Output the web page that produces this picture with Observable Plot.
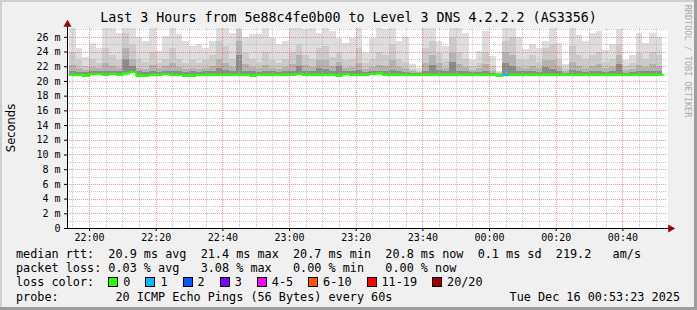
<!DOCTYPE html>
<html><head><meta charset="utf-8">
<script src="https://cdn.jsdelivr.net/npm/d3@7"></script>
<script src="https://cdn.jsdelivr.net/npm/@observablehq/plot@0.6"></script>
<style>
body{margin:0;background:#f0f0f0}
#wrap{position:relative;width:697px;height:310px;background:#f0f0f0;overflow:hidden;font-family:"DejaVu Sans Mono",monospace;color:#000}
.abs{position:absolute}
#title{left:0;top:10px;width:697px;text-align:center;font-size:13.3px;line-height:16px}
#ylab{left:-29px;top:121px;width:80px;height:14px;line-height:14px;text-align:center;font-family:"DejaVu Sans",sans-serif;font-size:11.5px;transform:rotate(-90deg)}
#brand{left:628px;top:56px;width:120px;height:10px;line-height:10px;text-align:center;font-size:8.5px;color:#aaaaaa;transform:rotate(90deg)}
#legend{left:16px;top:247px;font-size:11.8px;line-height:14.2px;white-space:pre}
.box{display:inline-block;width:8px;height:8px;border:1px solid #000;margin-right:5px;vertical-align:-1px}
.lab{margin-right:15px}
#date{right:17px;top:289.6px;font-size:11.8px;line-height:14.2px;white-space:pre}
.shA{background:#cfcfcf}.shB{background:#9e9e9e}
#chart{left:0;top:0}
</style></head>
<body>
<div id="wrap">
  <div class="abs shA" style="left:0;top:0;width:697px;height:2px"></div>
  <div class="abs shA" style="left:0;top:0;width:2px;height:310px"></div>
  <div class="abs shB" style="left:694px;top:0;width:3px;height:310px"></div>
  <div class="abs shB" style="left:0;top:307px;width:697px;height:3px"></div>
  <div id="chart" class="abs"></div>
  <div id="title" class="abs"></div>
  <div id="ylab" class="abs"></div>
  <div id="brand" class="abs"></div>
  <div id="legend" class="abs"></div>
  <div id="date" class="abs"></div>
</div>
<script>
// ---- text ----
const titleText = "Last 3 Hours from 5e88c4fe0b00 to Level 3 DNS 4.2.2.2 (AS3356)";
const yAxisTitle = "Seconds";
const brandText = "RRDTOOL / TOBI OETIKER";
const statsLines = [
  "median rtt:  20.9 ms avg  21.4 ms max  20.7 ms min  20.8 ms now  0.1 ms sd  219.2   am/s",
  "packet loss: 0.03 % avg   3.08 % max   0.00 % min   0.00 % now"
];
const probeLine = "probe:        20 ICMP Echo Pings (56 Bytes) every 60s";
const dateText = "Tue Dec 16 00:53:23 2025";

// ---- loss legend ----
const lossLabels = ["0","1","2","3","4-5","6-10","11-19","20/20"];
const lossColors = ["#26ff00","#00b8ff","#0059ff","#7e00ff","#ff00ff","#ff5500","#ff0000","#a10000"];

// ---- axes ----
const xTickLabels = ["22:00","22:20","22:40","23:00","23:20","23:40","00:00","00:20","00:40"];
const yTickValues = [0,2,4,6,8,10,12,14,16,18,20,22,24,26];
const yTickLabels = ["0","2 m","4 m","6 m","8 m","10 m","12 m","14 m","16 m","18 m","20 m","22 m","24 m","26 m"];
const yMinorValues = [1,3,5,7,9,11,13,15,17,19,21,23,25,27];

// ---- data: 2-minute buckets starting 21:54 UTC, values in ms ----
const median = [20.9,20.9,20.8,21.0,21.0,20.9,21.0,20.9,21.1,21.3, 20.8,20.8,20.9,20.9,21.0,20.9,20.9,20.8,20.8,20.9,
  20.9,20.9,20.9,20.9,20.9,20.9,20.9,20.8,20.9,20.9, 20.9,20.9,20.9,20.9,21.0,20.9,20.9,20.9,20.9,20.9,
  20.8,21.0,20.9,20.9,20.9,21.0,21.1,20.9,20.9,20.9, 20.9,20.9,20.9,20.9,20.9,20.9,20.9,20.9,20.9,20.9,
  20.9,20.9,20.9,20.9,20.8,20.9,20.9,20.9,20.9,20.9, 20.9,20.9,20.9,20.9,20.9,20.9,20.9,20.9,20.9,20.9,
  20.9,20.9,20.9,20.9,20.9,20.9,20.9,20.9,20.9];
const lossCount = [0,0,0,0,0,0,0,0,0,0, 0,0,0,0,0,0,0,0,0,0, 0,0,0,0,0,0,0,0,0,0, 0,0,0,0,0,0,0,0,0,0,
  0,0,0,0,0,0,0,0,0,0, 0,0,0,0,0,0,0,0,0,0, 0,0,0,0,0,1,0,0,0,0, 0,0,0,0,0,0,0,0,0,0, 0,0,0,0,0,0,0,0,0];
const smokeMax = [27.8,24.5,23.2,25.2,24.5,27.8,27.8,26.5,27.8,27.8, 26.0,25.5,27.8,24.1,26.1,27.8,26.4,25.5,24.8,25.0,
  24.5,25.5,27.8,27.8,26.5,27.8,26.0,26.4,26.4,27.8, 25.8,25.0,25.4,27.8,27.8,27.0,27.8,26.5,27.8,26.8,
  25.9,25.2,25.9,27.8,23.8,25.9,27.8,27.0,27.8,25.5, 26.0,22.3,21.8,27.8,27.8,25.5,24.8,27.8,27.8,26.5,
  22.9,24.1,26.8,23.4,21.4,27.8,27.8,26.0,24.3,25.0, 24.5,25.5,27.8,25.2,22.3,27.8,26.3,25.5,26.5,26.8,
  24.2,25.0,27.0,22.9,23.5,26.5,25.2,26.5,26.0];
const smokeHigh = [24.0,22.8,22.0,23.0,22.5,24.5,23.5,22.8,26.5,25.0, 23.0,22.6,24.0,22.5,23.0,24.5,23.0,22.5,22.8,22.4,
  22.8,23.5,25.5,24.8,23.0,27.0,23.8,23.0,22.6,24.0, 22.8,22.4,23.0,24.0,25.0,23.5,23.0,24.5,24.8,23.2,
  24.0,22.8,23.0,24.5,22.5,23.0,24.0,23.5,25.0,23.0, 22.6,21.6,21.4,24.5,25.5,23.8,22.7,25.8,24.0,23.0,
  22.0,22.5,24.0,22.0,21.2,25.5,26.0,23.0,22.8,23.5, 22.6,24.5,25.0,23.0,21.8,24.8,23.5,23.0,23.5,24.0,
  22.6,23.0,25.0,22.0,22.4,23.8,23.0,24.0,23.5];
const smokeMid = [22.2,21.8,21.5,21.9,21.8,22.4,22.0,21.8,24.5,23.0, 21.8,21.6,22.2,21.7,22.0,22.5,21.9,21.6,21.8,21.6,
  21.7,22.0,23.0,22.5,21.9,25.5,22.3,21.9,21.7,22.2, 21.8,21.6,21.9,22.3,23.5,22.2,21.9,22.8,22.8,22.0,
  22.6,21.8,21.9,22.5,21.6,21.9,22.2,22.0,22.8,21.9, 21.7,21.3,21.2,22.4,23.5,22.4,21.8,23.8,22.3,21.9,
  21.5,21.7,22.3,21.4,21.1,24.0,23.5,21.9,21.8,22.0, 21.7,22.8,22.8,21.9,21.3,22.6,22.0,21.8,22.0,22.3,
  21.7,21.9,23.5,21.5,21.6,22.2,21.9,22.3,22.0];
const smokeLow = [21.3,21.2,21.2,21.3,21.3,21.4,21.3,21.3,23.0,22.0, 21.3,21.2,21.3,21.2,21.3,21.4,21.3,21.2,21.3,21.2,
  21.3,21.3,21.8,21.5,21.3,23.5,21.4,21.3,21.2,21.3, 21.3,21.2,21.3,21.4,22.0,21.4,21.3,21.8,21.6,21.3,
  22.0,21.3,21.3,21.5,21.2,21.3,21.4,21.3,21.5,21.3, 21.2,21.1,21.1,21.4,22.2,21.5,21.3,22.6,21.4,21.3,
  21.2,21.2,21.4,21.1,21.0,22.5,22.0,21.3,21.3,21.3, 21.2,21.9,21.6,21.3,21.1,21.5,21.3,21.2,21.3,21.4,
  21.2,21.3,22.3,21.1,21.2,21.4,21.3,21.4,21.3];

// ---- build ----
const tStart = new Date(Date.UTC(2025,11,15,21,53,23));
const tEnd = new Date(Date.UTC(2025,11,16,0,53,23));
const firstBucket = Date.UTC(2025,11,15,21,54,0);
const stepMs = 2*60000;
const rows = median.map((m,i)=>({
  x1: new Date(firstBucket + i*stepMs), x2: new Date(firstBucket + (i+1)*stepMs),
  median: m, lo: m - 0.2, loss: lossCount[i],
  s1: smokeMax[i], s2: smokeHigh[i], s3: smokeMid[i], s4: smokeLow[i]
}));
const lineRows = rows.concat([{x1: rows[rows.length-1].x2, median: rows[rows.length-1].median}]);
const lossIndex = n => n===0?0:n===1?1:n===2?2:n===3?3:n<=5?4:n<=10?5:n<=19?6:7;

const majorTimes = xTickLabels.map(s => {
  const [h, m] = s.split(":").map(Number);
  return new Date(Date.UTC(2025,11, h >= 12 ? 15 : 16, h, m));
});
const xLabelOf = new Map(majorTimes.map((d,i)=>[+d, xTickLabels[i]]));
const yLabelOf = new Map(yTickValues.map((v,i)=>[v, yTickLabels[i]]));
const minorTimes = d3.utcMinute.every(5).range(tStart, tEnd).filter(d => !xLabelOf.has(+d));
const yTop = 27.2;

const smokeLayer = (key, color) => Plot.rectY(rows, {x1: "x1", x2: "x2", y1: "lo", y2: key, fill: color, clip: true, shapeRendering: "crispEdges"});
const grid = {strokeDasharray: "1,1", shapeRendering: "crispEdges"};

const chart = Plot.plot({
  width: 697, height: 245,
  marginLeft: 67, marginRight: 30, marginTop: 28, marginBottom: 17,
  style: {background: "transparent", fontFamily: "'DejaVu Sans Mono', monospace", fontSize: "10px", color: "#000", overflow: "visible"},
  x: {type: "utc", domain: [tStart, tEnd], ticks: majorTimes, tickFormat: d => xLabelOf.get(+d), tickSize: 3, tickPadding: 2, label: null},
  y: {domain: [0, yTop], ticks: yTickValues, tickFormat: d => yLabelOf.get(d), tickSize: 3, tickPadding: 4, label: null},
  marks: [
    Plot.frame({fill: "white", stroke: "none"}),
    smokeLayer("s1", "#dddddd"),
    smokeLayer("s2", "#cbcbcb"),
    smokeLayer("s3", "#b3b3b3"),
    smokeLayer("s4", "#8c8c8c"),
    Plot.ruleX(minorTimes, {stroke: "#b0b0b0", strokeOpacity: 0.7, ...grid}),
    Plot.ruleY(yMinorValues.filter(v => v < yTop), {stroke: "#b0b0b0", strokeOpacity: 0.7, ...grid}),
    Plot.ruleX(majorTimes, {stroke: "#ff2020", strokeOpacity: 0.45, ...grid}),
    Plot.ruleY(yTickValues.filter(v => v > 0), {stroke: "#ff2020", strokeOpacity: 0.45, ...grid}),
    Plot.line(lineRows, {x: "x1", y: "median", curve: "step-after", stroke: lossColors[0], strokeWidth: 2}),
    Plot.ruleY(rows, {x1: "x1", x2: "x2", y: "median", stroke: d => lossColors[lossIndex(d.loss)], strokeWidth: 2, strokeLinecap: "butt"}),
    Plot.ruleX([tStart], {y1: 0, y2: yTop + 0.8, stroke: "#000", shapeRendering: "crispEdges"}),
    Plot.ruleY([0], {x1: tStart, x2: new Date(+tEnd + 60000), stroke: "#000", shapeRendering: "crispEdges"}),
    Plot.dot([tEnd], {x: d => d, y: 0, dx: 3, symbol: "triangle", rotate: 90, r: 3, fill: "#a00000", stroke: "none"}),
    Plot.dot([tStart], {x: d => d, y: yTop, dy: -4, symbol: "triangle", rotate: 0, r: 3, fill: "#a00000", stroke: "none"})
  ]
});
document.getElementById("chart").appendChild(chart);

document.getElementById("title").textContent = titleText;
document.getElementById("ylab").textContent = yAxisTitle;
document.getElementById("brand").textContent = brandText;
document.getElementById("date").textContent = dateText;

const legend = document.getElementById("legend");
statsLines.forEach(s => { const d = document.createElement("div"); d.textContent = s; legend.appendChild(d); });
const lossLine = document.createElement("div");
lossLine.appendChild(document.createTextNode("loss color:  "));
lossLabels.forEach((lab, i) => {
  const b = document.createElement("span"); b.className = "box"; b.style.background = lossColors[i];
  const t = document.createElement("span"); t.className = "lab"; t.textContent = lab;
  lossLine.appendChild(b); lossLine.appendChild(t);
});
legend.appendChild(lossLine);
const pd = document.createElement("div"); pd.textContent = probeLine; legend.appendChild(pd);
</script>
</body></html>
